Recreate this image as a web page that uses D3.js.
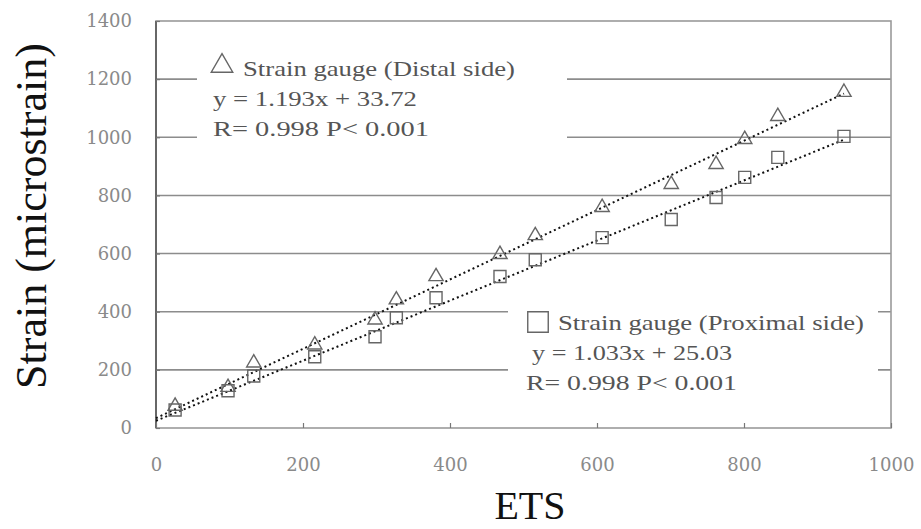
<!DOCTYPE html>
<html>
<head>
<meta charset="utf-8">
<script src="https://cdn.jsdelivr.net/npm/d3@7"></script>
<style>
  body { margin: 0; background: #fff; }
  svg { display: block; }
</style>
</head>
<body>
<svg id="chart" width="921" height="529"></svg>
<script>
// ---- data ----
const ets      = [26, 98, 133, 216, 298, 327, 381, 468, 516, 607, 701, 762, 801, 846, 936];
const distal   = [75, 140, 224, 286, 372, 441, 521, 597, 662, 759, 838, 907, 993, 1072, 1155];
const proximal = [62, 128, 179, 245, 314, 379, 448, 521, 579, 655, 717, 793, 862, 931, 1003];

const xTicks = [0, 200, 400, 600, 800, 1000];
const yTicks = [0, 200, 400, 600, 800, 1000, 1200, 1400];

// regression lines as printed on the chart
const fits = [
  { name: "distal",   slope: 1.193, intercept: 33.72 },
  { name: "proximal", slope: 1.033, intercept: 25.03 }
];

const distalLegend   = ["Strain gauge (Distal side)",   "y = 1.193x + 33.72", "R= 0.998   P< 0.001"];
const proximalLegend = ["Strain gauge (Proximal side)", "y = 1.033x + 25.03", "R= 0.998  P< 0.001"];

// ---- setup ----
const svg = d3.select("#chart");
const plotL = 156, plotR = 891, plotT = 21, plotB = 428;

const x = d3.scaleLinear().domain([0, 1000]).range([plotL, plotR]);
const y = d3.scaleLinear().domain([0, 1400]).range([plotB, plotT]);

const serif = "'Liberation Serif', 'Times New Roman', serif";

// gridlines
svg.append("g")
  .selectAll("line").data(yTicks.slice(1, -1)).join("line")
  .attr("x1", plotL).attr("x2", plotR)
  .attr("y1", d => y(d)).attr("y2", d => y(d))
  .attr("stroke", "#8c8c8c").attr("stroke-width", 1.6);

// frame
svg.append("rect")
  .attr("x", plotL).attr("y", plotT)
  .attr("width", plotR - plotL).attr("height", plotB - plotT)
  .attr("fill", "none").attr("stroke", "#9a9a9a").attr("stroke-width", 1.6);
svg.append("line")
  .attr("x1", plotL).attr("x2", plotL).attr("y1", plotT).attr("y2", plotB)
  .attr("stroke", "#555").attr("stroke-width", 1.6);

// axes (ticks inside the frame, labels outside)
const xAxis = svg.append("g")
  .attr("transform", `translate(0,${plotB})`)
  .call(d3.axisBottom(x).tickValues(xTicks).tickFormat(d3.format("d")).tickSize(-5).tickPadding(30));
const yAxis = svg.append("g")
  .attr("transform", `translate(${plotL},0)`)
  .call(d3.axisLeft(y).tickValues(yTicks).tickFormat(d3.format("d")).tickSize(-4).tickPadding(24));

[xAxis, yAxis].forEach(g => {
  g.select(".domain").remove();
  g.selectAll(".tick line").attr("stroke", "#777").attr("stroke-width", 1.2);
  g.selectAll(".tick text")
    .attr("font-family", "'DejaVu Serif', serif")
    .attr("font-size", 18)
    .attr("fill", "#8a8a8a");
});

// white text boxes hiding the gridlines behind the legends
svg.append("rect").attr("x", 197).attr("y", 45).attr("width", 370).attr("height", 120).attr("fill", "#fff");
svg.append("rect").attr("x", 508).attr("y", 290).attr("width", 370).attr("height", 112).attr("fill", "#fff");

// trend lines
const line = d3.line().x(d => x(d[0])).y(d => y(d[1]));
const xMax = d3.max(ets);
svg.append("g")
  .selectAll("path").data(fits).join("path")
  .attr("d", f => line([[0, f.intercept], [xMax, f.intercept + f.slope * xMax]]))
  .attr("fill", "none")
  .attr("stroke", "#111")
  .attr("stroke-width", 2)
  .attr("stroke-dasharray", "2,3");

// markers
const tri = d3.symbol().type(d3.symbolTriangle).size(88);
const sq  = d3.symbol().type(d3.symbolSquare).size(144);

svg.append("g")
  .selectAll("path").data(ets).join("path")
  .attr("transform", (d, i) => `translate(${x(d)},${y(distal[i])})`)
  .attr("d", tri())
  .attr("fill", "none").attr("stroke", "#666").attr("stroke-width", 1.4);

svg.append("g")
  .selectAll("path").data(ets).join("path")
  .attr("transform", (d, i) => `translate(${x(d)},${y(proximal[i])})`)
  .attr("d", sq())
  .attr("fill", "none").attr("stroke", "#666").attr("stroke-width", 1.4);

// legends
function legend(rows, symbol, sx, sy, lines) {
  svg.append("path")
    .attr("transform", `translate(${sx},${sy})`)
    .attr("d", symbol())
    .attr("fill", "none").attr("stroke", "#666").attr("stroke-width", 1.4);
  svg.append("g")
    .selectAll("text").data(rows).join("text")
    .attr("x", (d, i) => lines[i].x)
    .attr("y", (d, i) => lines[i].y)
    .attr("textLength", (d, i) => lines[i].w)
    .attr("lengthAdjust", "spacingAndGlyphs")
    .attr("font-family", serif)
    .attr("font-size", 22)
    .attr("fill", "#555")
    .text(d => d);
}

legend(distalLegend, d3.symbol().type(d3.symbolTriangle).size(200), 222, 66, [
  { x: 243, y: 76,  w: 272 },
  { x: 213, y: 106, w: 204 },
  { x: 213, y: 136, w: 216 }
]);
legend(proximalLegend, d3.symbol().type(d3.symbolSquare).size(420), 538, 322, [
  { x: 558, y: 330, w: 306 },
  { x: 532, y: 360, w: 200 },
  { x: 526, y: 390, w: 211 }
]);

// axis titles
svg.append("text")
  .attr("transform", "translate(46,216) rotate(-90)")
  .attr("text-anchor", "middle")
  .attr("font-family", serif)
  .attr("font-size", 44)
  .attr("fill", "#111")
  .text("Strain (microstrain)");

svg.append("text")
  .attr("x", 530).attr("y", 519)
  .attr("text-anchor", "middle")
  .attr("font-family", serif)
  .attr("font-size", 40)
  .attr("fill", "#111")
  .text("ETS");
</script>
</body>
</html>
